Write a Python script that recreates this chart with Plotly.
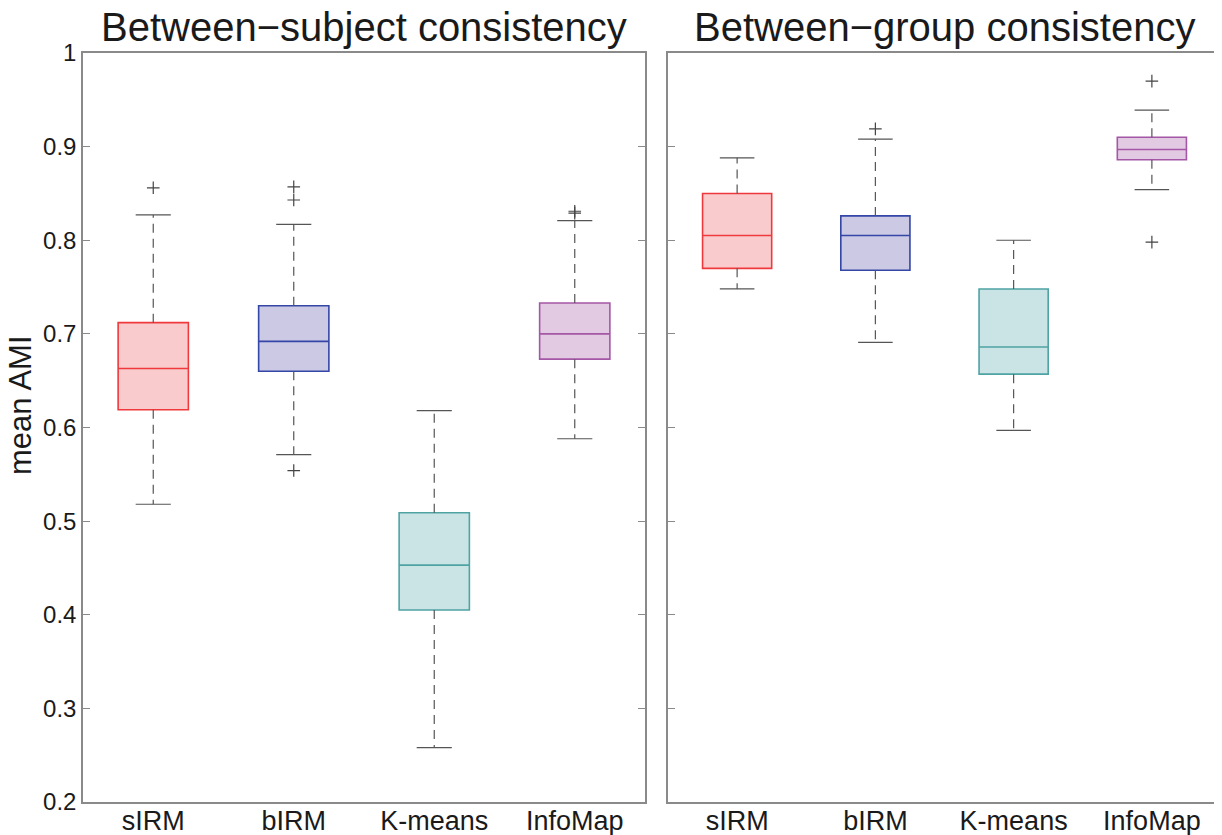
import plotly.graph_objects as go

categories = ["sIRM", "bIRM", "K-means", "InfoMap"]

# Between-subject consistency
subj_lower = [0.518, 0.571, 0.258, 0.588]
subj_q1 = [0.619, 0.660, 0.405, 0.673]
subj_median = [0.663, 0.692, 0.453, 0.700]
subj_q3 = [0.712, 0.730, 0.509, 0.733]
subj_upper = [0.827, 0.817, 0.618, 0.821]
subj_outliers = [[0.856], [0.857, 0.843, 0.554], [], [0.831, 0.829]]

# Between-group consistency
group_lower = [0.748, 0.691, 0.597, 0.854]
group_q1 = [0.770, 0.768, 0.657, 0.886]
group_median = [0.805, 0.805, 0.686, 0.897]
group_q3 = [0.850, 0.826, 0.748, 0.910]
group_upper = [0.888, 0.908, 0.800, 0.939]
group_outliers = [[], [0.919], [], [0.970, 0.798]]

titles = ["Between\u2212subject consistency", "Between\u2212group consistency"]

line_colors = ["#f0393c", "#3446a6", "#4fa3a3", "#a457a6"]
fill_colors = ["rgba(245,160,164,0.55)", "rgba(160,156,206,0.55)",
               "rgba(158,205,207,0.55)", "rgba(204,158,204,0.55)"]

FONT = "Liberation Sans, Arial, Helvetica, sans-serif"
GRAY = "#8a8a8a"
WHISK = "#555555"
TXT = "#1a1a1a"

# page body has an 8px margin: work in figure coordinates = screen - 8
OFF = 8
W, H = 1222 - OFF, 835 - OFF
ML, MR, MT, MB = 83 - OFF, W - (1221 - OFF), 53 - OFF, H - (802 - OFF)
PW = W - ML - MR
PH = H - MT - MB


def px(sx):
    return (sx - OFF - ML) / PW


def py(sy):
    return (H - MB - (sy - OFF)) / PH


fig = go.Figure()

panels = [
    (subj_lower, subj_q1, subj_median, subj_q3, subj_upper, subj_outliers),
    (group_lower, group_q1, group_median, group_q3, group_upper, group_outliers),
]
box_w = 0.5
cap_w = 0.25

for p, (lo, q1, med, q3, up, outs) in enumerate(panels):
    xa = "x" if p == 0 else "x2"
    ya = "y" if p == 0 else "y2"
    for i, cat in enumerate(categories):
        pos = i + 1
        fig.add_trace(go.Scatter(
            x=[pos, pos, None, pos, pos], y=[q3[i], up[i], None, q1[i], lo[i]],
            mode="lines", line=dict(color=WHISK, width=1.2, dash="9px,6px"),
            xaxis=xa, yaxis=ya, showlegend=False, hoverinfo="skip"))
        fig.add_trace(go.Scatter(
            x=[pos - cap_w / 2, pos + cap_w / 2, None, pos - cap_w / 2, pos + cap_w / 2],
            y=[up[i], up[i], None, lo[i], lo[i]],
            mode="lines", line=dict(color=WHISK, width=1.2),
            xaxis=xa, yaxis=ya, showlegend=False, hoverinfo="skip"))
        fig.add_trace(go.Box(
            x=[pos], q1=[q1[i]], median=[med[i]], q3=[q3[i]],
            lowerfence=[q1[i]], upperfence=[q3[i]],
            width=box_w, whiskerwidth=0,
            line=dict(color=line_colors[i], width=1.6),
            fillcolor=fill_colors[i],
            xaxis=xa, yaxis=ya, showlegend=False, boxpoints=False))
        if outs[i]:
            fig.add_trace(go.Scatter(
                x=[pos] * len(outs[i]), y=outs[i], mode="markers",
                marker=dict(symbol="cross-thin", size=9,
                            line=dict(color="#444444", width=1.2)),
                xaxis=xa, yaxis=ya, showlegend=False, hoverinfo="skip"))

x1 = [0, px(645)]
x2 = [px(668), 1]

common_x = dict(range=[0.5, 4.5], tickvals=[1, 2, 3, 4], ticktext=categories,
                showline=True, mirror=True, linecolor=GRAY, linewidth=1.5,
                ticks="", showgrid=False, zeroline=False, automargin=False,
                ticklabelstandoff=-6,
                tickfont=dict(family=FONT, size=27, color=TXT))
common_y = dict(range=[0.2, 1.0], tickvals=[0.2, 0.3, 0.4, 0.5, 0.6, 0.7, 0.8, 0.9, 1.0],
                ticktext=["0.2", "0.3", "0.4", "0.5", "0.6", "0.7", "0.8", "0.9", "1"],
                showline=True, mirror="ticks", linecolor=GRAY, linewidth=1.5,
                ticks="inside", ticklen=7, tickcolor=GRAY, tickwidth=1.2,
                showgrid=False, zeroline=False, automargin=False,
                tickfont=dict(family=FONT, size=24, color=TXT))

fig.update_layout(
    width=W, height=H,
    margin=dict(l=ML, r=MR, t=MT, b=MB, autoexpand=False),
    paper_bgcolor="white", plot_bgcolor="white",
    xaxis=dict(domain=x1, anchor="y", **common_x),
    xaxis2=dict(domain=x2, anchor="y2", **common_x),
    yaxis=dict(domain=[0, 1], anchor="x", **common_y),
    yaxis2=dict(domain=[0, 1], anchor="x2", showticklabels=False,
                **{k: v for k, v in common_y.items() if k != "tickfont"}),
    annotations=[
        dict(text=titles[0], x=px((83 + 645) / 2), y=py(27), xref="paper", yref="paper",
             showarrow=False, xanchor="center", yanchor="middle",
             font=dict(family=FONT, size=40, color=TXT)),
        dict(text=titles[1], x=px((668 + 1221) / 2), y=py(27), xref="paper", yref="paper",
             showarrow=False, xanchor="center", yanchor="middle",
             font=dict(family=FONT, size=40, color=TXT)),
        dict(text="mean AMI", x=px(20), y=py(405), xref="paper", yref="paper",
             showarrow=False, textangle=-90, xanchor="center", yanchor="middle",
             font=dict(family=FONT, size=31, color=TXT)),
    ],
)

fig.write_html("out.html")
